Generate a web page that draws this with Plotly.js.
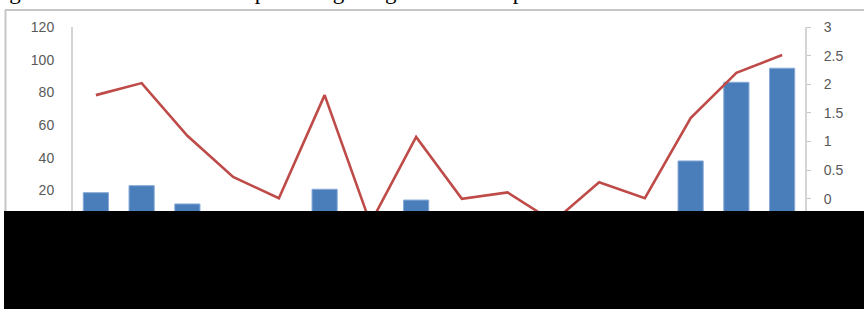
<!DOCTYPE html>
<html>
<head>
<meta charset="utf-8">
<script src="https://cdn.plot.ly/plotly-3.0.1.min.js"></script>
<style>html,body{margin:0;padding:0;background:#fff;}#chart{width:864px;height:309px;}</style>
</head>
<body>
<div id="chart"></div>
<script>
// Categories (x-axis labels are hidden under the black box in the reference)
const years = ["1995","1996","1997","1998","1999","2000","2001","2002","2003","2004","2005","2006","2007","2008","2009","2010"];
// Bars, left axis (values below ~7 are hidden under the black box; estimated)
const barValues = [18.7, 23.0, 11.8, 4, 2, 20.8, 3, 14.2, 3, 3, 2, 4, 5, 38.1, 86.2, 94.8];
// Line, right axis
const lineValues = [1.81, 2.02, 1.10, 0.38, 0.01, 1.81, -0.43, 1.08, 0.0, 0.11, -0.40, 0.29, 0.01, 1.41, 2.20, 2.51];
const leftTicks = [-20, 0, 20, 40, 60, 80, 100, 120];
const rightTicks = [-1, -0.5, 0, 0.5, 1, 1.5, 2, 2.5, 3];
const titleLeft = "Figure 3:";
const titleRight = "flow as percentage of gross fixed capital";

// layout geometry helpers (pixel -> paper)
const W = 864, H = 309, ML = 73, MR = 59, MT = 27, MB = 53;
const PW = W - ML - MR, PH = H - MT - MB;
const px = v => (v - ML) / PW;
const py = v => (H - MB - v) / PH;

const data = [
  {type: 'bar', x: years, y: barValues, yaxis: 'y',
   marker: {color: '#4a7ebb', line: {color: '#86a9d6', width: 1}}},
  {type: 'scatter', mode: 'lines', x: years, y: lineValues, yaxis: 'y2',
   line: {color: '#be4b48', width: 2.6}}
];

const tickFont = {family: 'Liberation Sans, Arial, sans-serif', size: 14, color: '#595959'};

const layout = {
  width: W, height: H,
  margin: {l: ML, r: MR, t: MT, b: MB, pad: 0},
  paper_bgcolor: '#ffffff', plot_bgcolor: '#ffffff',
  showlegend: false,
  bargap: 0.45,
  xaxis: {type: 'category', showgrid: false, zeroline: false, showline: false,
          tickfont: tickFont, ticks: ''},
  yaxis: {range: [-20, 120], tickvals: leftTicks, showgrid: false, zeroline: false,
          showline: true, linecolor: '#d4d4d4', linewidth: 2, ticks: '',
          ticklabelstandoff: 14, tickfont: tickFont},
  yaxis2: {range: [-1, 3], tickvals: rightTicks, overlaying: 'y', side: 'right',
           showgrid: false, zeroline: false, showline: true, linecolor: '#d4d4d4', linewidth: 2,
           ticks: 'outside', ticklen: 4, tickcolor: '#c8c8c8', tickwidth: 1,
           ticklabelstandoff: 10, tickfont: tickFont},
  shapes: [
    // chart frame (top and left edges)
    {type: 'line', xref: 'paper', yref: 'paper', x0: px(5), x1: px(880), y0: py(10), y1: py(10),
     line: {color: '#c6c6c6', width: 2}, layer: 'above'},
    {type: 'line', xref: 'paper', yref: 'paper', x0: px(5.5), x1: px(5.5), y0: py(10), y1: py(215),
     line: {color: '#c6c6c6', width: 2}, layer: 'above'},
    // black redaction box
    {type: 'rect', xref: 'paper', yref: 'paper', x0: px(4), x1: px(880), y0: py(320), y1: py(211),
     fillcolor: '#000000', line: {width: 0}, layer: 'above'}
  ],
  annotations: [
    {xref: 'paper', yref: 'paper', x: px(-12), y: py(-8), xanchor: 'left', yanchor: 'middle',
     text: titleLeft, showarrow: false,
     font: {family: 'Liberation Serif, Times New Roman, serif', size: 23, color: '#000'}},
    {xref: 'paper', yref: 'paper', x: px(180), y: py(-8), xanchor: 'left', yanchor: 'middle',
     text: titleRight, showarrow: false,
     font: {family: 'Liberation Serif, Times New Roman, serif', size: 23, color: '#000'}}
  ]
};

Plotly.newPlot('chart', data, layout, {displayModeBar: false, staticPlot: true});
</script>
</body>
</html>
